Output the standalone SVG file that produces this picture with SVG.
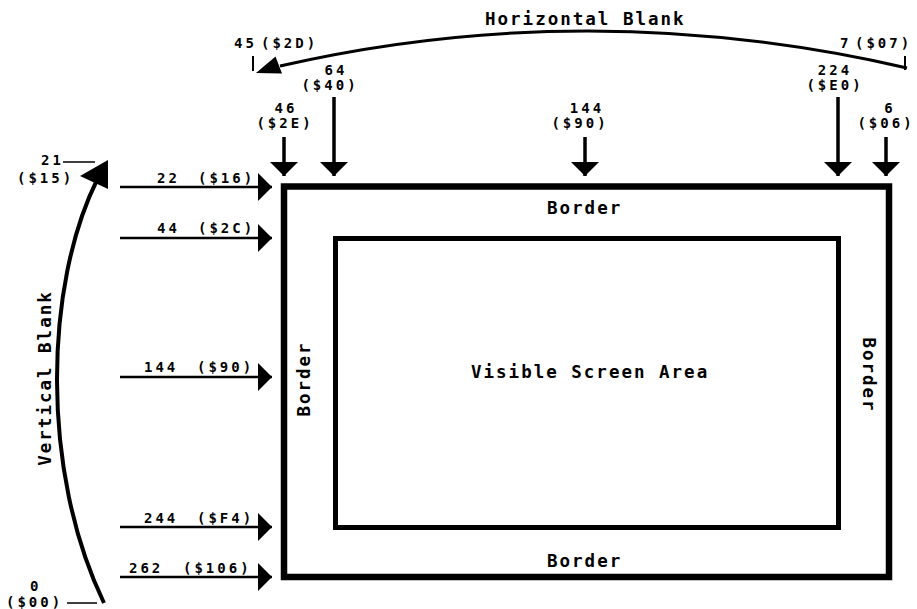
<svg xmlns="http://www.w3.org/2000/svg" width="917" height="609" viewBox="0 0 917 609">
<style>
.t{font-family:"DejaVu Sans Mono","Liberation Mono",monospace;font-weight:bold;fill:#000}
.big{font-size:17.5px;letter-spacing:2px}
.num{font-size:14px;letter-spacing:3px}
.ln{stroke:#000;fill:none}
</style>
<defs>
<marker id="ah" viewBox="0 0 14 28" refX="14" refY="14" markerWidth="14" markerHeight="28" markerUnits="userSpaceOnUse" orient="auto">
<path d="M0,0 L14,14 L0,28 Z" fill="#000"/>
</marker>
</defs>
<rect width="917" height="609" fill="#fff"/>

<g id="outer-border">
<rect x="284" y="186.5" width="605" height="390.5" class="ln" stroke-width="6.5"/>
<text class="t big" x="547" y="214">Border</text>
<text class="t big" x="547" y="567">Border</text>
<text class="t big" text-anchor="middle" transform="translate(310,379) rotate(-90)">Border</text>
<text class="t big" text-anchor="middle" transform="translate(863,375) rotate(90)">Border</text>
</g>

<g id="visible-area">
<rect x="335.5" y="238.5" width="503" height="289" class="ln" stroke-width="5"/>
<text class="t big" x="471" y="378">Visible Screen Area</text>
</g>

<g id="horizontal-blank">
<text class="t big" x="485" y="25">Horizontal Blank</text>
<text class="t num" x="234" y="48">45<tspan x="261">($2D)</tspan></text>
<text class="t num" x="840" y="48">7<tspan x="855">($07)</tspan></text>
</g>

<g id="vertical-blank">
<text class="t big" text-anchor="middle" transform="translate(51,378) rotate(-90)">Vertical Blank</text>
<text class="t num" x="41" y="165">21</text>
<text class="t num" x="17" y="183">($15)</text>
<text class="t num" x="30" y="591">0</text>
<text class="t num" x="6" y="607">($00)</text>
</g>

<g id="top-labels">
<text class="t num" text-anchor="middle" x="336" y="75">64</text>
<text class="t num" text-anchor="middle" x="330" y="90">($40)</text>
<text class="t num" text-anchor="middle" x="286" y="113">46</text>
<text class="t num" text-anchor="middle" x="285" y="128">($2E)</text>
<text class="t num" text-anchor="middle" x="587" y="113">144</text>
<text class="t num" text-anchor="middle" x="580" y="128">($90)</text>
<text class="t num" text-anchor="middle" x="835" y="75">224</text>
<text class="t num" text-anchor="middle" x="835" y="90">($E0)</text>
<text class="t num" text-anchor="middle" x="890" y="113">6</text>
<text class="t num" text-anchor="middle" x="886" y="128">($06)</text>
</g>

<g id="left-labels">
<text class="t num" x="157" y="183">22<tspan x="198">($16)</tspan></text>
<text class="t num" x="157" y="233">44<tspan x="198">($2C)</tspan></text>
<text class="t num" x="144" y="372">144<tspan x="197">($90)</tspan></text>
<text class="t num" x="144" y="523">244<tspan x="197">($F4)</tspan></text>
<text class="t num" x="129" y="573">262<tspan x="183">($106)</tspan></text>
</g>

<g id="connectors">
<g stroke="#000" stroke-width="2.5" marker-end="url(#ah)">
<line x1="120" y1="187" x2="272" y2="187"/>
<line x1="120" y1="238" x2="272" y2="238"/>
<line x1="120" y1="377" x2="272" y2="377"/>
<line x1="120" y1="527" x2="272" y2="527"/>
<line x1="120" y1="577" x2="272" y2="577"/>
</g>
<g stroke="#000" stroke-width="3.5" marker-end="url(#ah)">
<line x1="284" y1="137" x2="284" y2="176"/>
<line x1="334" y1="97" x2="334" y2="176"/>
<line x1="585" y1="137" x2="585" y2="176"/>
<line x1="838" y1="97" x2="838" y2="176"/>
<line x1="886" y1="137" x2="886" y2="176"/>
</g>
<path d="M907,68 Q590,-5 280,66" class="ln" stroke-width="3"/>
<polygon points="256,73 275.5,56.5 282,73.5" fill="#000"/>
<line x1="253" y1="56" x2="253" y2="71" class="ln" stroke-width="2"/>
<line x1="905" y1="56" x2="905" y2="70" class="ln" stroke-width="2"/>
<path d="M104,603 C40,470 45,285 97,180" class="ln" stroke-width="4"/>
<polygon points="108,160 80,176 108,189" fill="#000"/>
<line x1="63" y1="162" x2="95" y2="162" class="ln" stroke-width="1.5"/>
<line x1="67" y1="603" x2="97" y2="603" class="ln" stroke-width="1.5"/>
</g>
</svg>
